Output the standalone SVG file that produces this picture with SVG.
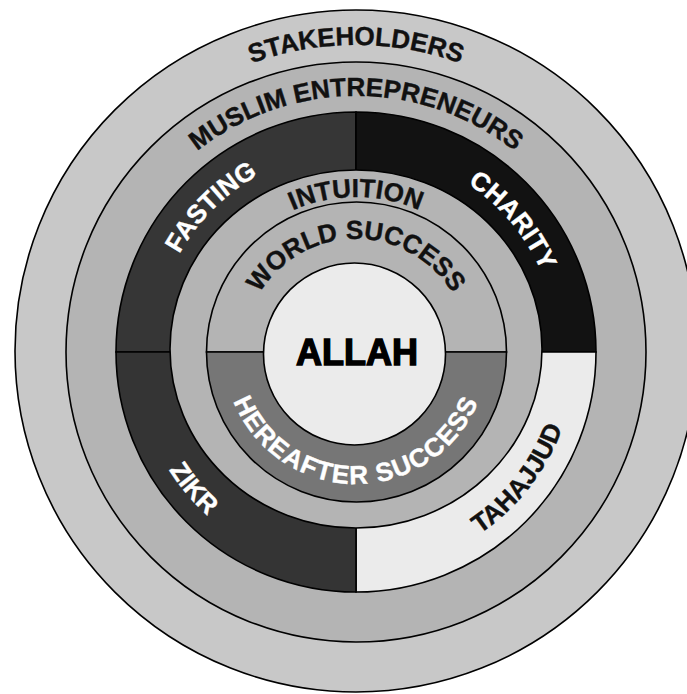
<svg xmlns="http://www.w3.org/2000/svg" xmlns:xlink="http://www.w3.org/1999/xlink" width="687" height="694" viewBox="0 0 687 694">
  <style>
    .ring { stroke: #000; stroke-width: 1.6; }
    .lbl { font-family: "Liberation Sans", Arial, sans-serif; font-weight: bold; font-size: 26px; stroke-width: 0.4px; }
    .dark { fill: #111; stroke: #111; }
    .light { fill: #fff; stroke: #fff; }
  </style>
  <defs>
    <!-- baselines for the curved labels (clockwise = tops outward, counter-clockwise = tops inward) -->
    <path id="arcStake" d="M50,351 A306,306 0 0 1 662,351"/>
    <path id="arcMuslim" d="M100,352 A256,256 0 0 1 612,352"/>
    <path id="arcIntuition" d="M201,352 A155,155 0 0 1 511,352"/>
    <path id="arcWorld" d="M243,352 A113,113 0 0 1 469,352"/>
    <path id="arcHereafter" d="M224,352 A132,132 0 0 0 488,352"/>
    <path id="arcFasting" d="M160.9,404.3 A202,202 0 0 1 408.3,156.9"/>
    <path id="arcCharity" d="M320.9,153.1 A202,202 0 0 1 545.8,421.1"/>
    <path id="arcZikr" d="M148.3,276.4 A221,221 0 0 0 394.4,569.6"/>
    <path id="arcTahajjud" d="M325.4,569.9 A220,220 0 0 0 560.0,269.6"/>
  </defs>

  <rect width="687" height="694" fill="#fff"/>

  <g id="stakeholders">
    <circle class="ring" cx="356" cy="351" r="341" fill="#c8c8c8"/>
    <text class="lbl dark"><textPath xlink:href="#arcStake" startOffset="50%" text-anchor="middle">STAKEHOLDERS</textPath></text>
  </g>

  <g id="muslim-entrepreneurs">
    <circle class="ring" cx="356" cy="352" r="290" fill="#b4b4b4"/>
    <text class="lbl dark"><textPath xlink:href="#arcMuslim" startOffset="50%" text-anchor="middle">MUSLIM ENTREPRENEURS</textPath></text>
  </g>

  <g id="fasting">
    <path class="ring" d="M356,352 L116,352 A240,240 0 0 1 356,112 Z" fill="#363636"/>
  </g>
  <g id="charity">
    <path class="ring" d="M356,352 L356,112 A240,240 0 0 1 596,352 Z" fill="#121212"/>
  </g>
  <g id="tahajjud">
    <path class="ring" d="M356,352 L596,352 A240,240 0 0 1 356,592 Z" fill="#ebebeb"/>
  </g>
  <g id="zikr">
    <path class="ring" d="M356,352 L356,592 A240,240 0 0 1 116,352 Z" fill="#343434"/>
  </g>

  <g id="intuition">
    <ellipse class="ring" cx="356" cy="349" rx="186" ry="179" fill="#b4b4b4"/>
    <text class="lbl dark" font-size="27"><textPath xlink:href="#arcIntuition" startOffset="50%" text-anchor="middle">INTUITION</textPath></text>
  </g>

  <g id="world-success">
    <path class="ring" d="M206.5,352 A150,150 0 0 1 506.5,352 Z" fill="#b4b4b4"/>
    <text class="lbl dark"><textPath xlink:href="#arcWorld" startOffset="50%" text-anchor="middle">WORLD SUCCESS</textPath></text>
  </g>

  <g id="hereafter-success">
    <path class="ring" d="M206.5,352 A150,150 0 0 0 506.5,352 Z" fill="#767676"/>
    <text class="lbl light" letter-spacing="1.3"><textPath xlink:href="#arcHereafter" startOffset="50%" text-anchor="middle">HEREAFTER SUCCESS</textPath></text>
  </g>

  <g id="allah">
    <circle class="ring" cx="354.5" cy="354" r="91" fill="#ebebeb"/>
    <text x="357" y="365" text-anchor="middle" font-family="Liberation Sans, Arial, sans-serif" font-weight="bold" font-size="36" fill="#000" stroke="#000" stroke-width="1.4">ALLAH</text>
  </g>

  <g id="segment-labels">
    <text class="lbl light"><textPath xlink:href="#arcFasting" startOffset="50%" text-anchor="middle">FASTING</textPath></text>
    <text class="lbl light"><textPath xlink:href="#arcCharity" startOffset="50%" text-anchor="middle">CHARITY</textPath></text>
    <text class="lbl light"><textPath xlink:href="#arcZikr" startOffset="50%" text-anchor="middle">ZIKR</textPath></text>
    <text class="lbl dark"><textPath xlink:href="#arcTahajjud" startOffset="50%" text-anchor="middle">TAHAJJUD</textPath></text>
  </g>
</svg>
